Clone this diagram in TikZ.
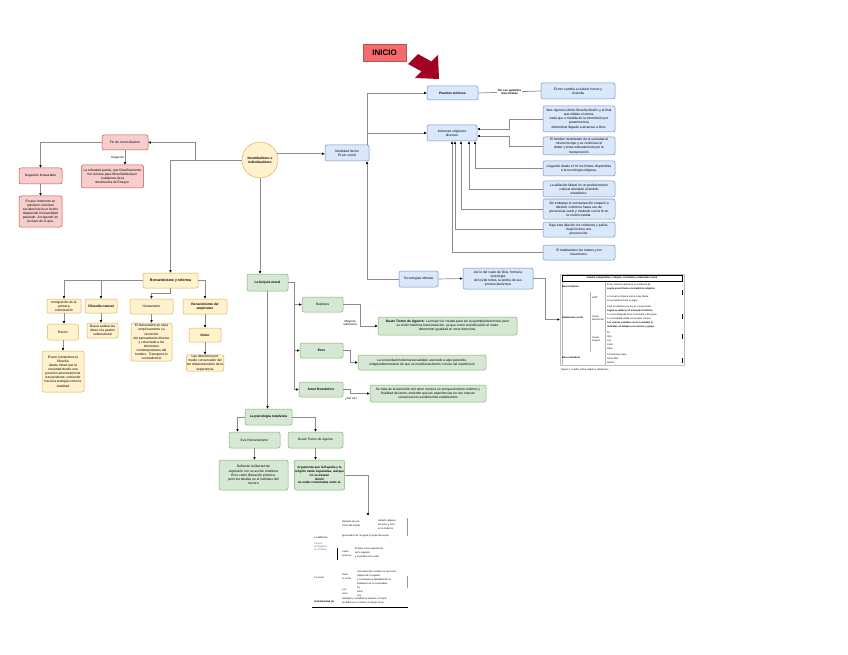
\documentclass[tikz,border=0pt]{standalone}
\usepackage{fontspec}
\setmainfont{Liberation Sans}
\usetikzlibrary{arrows.meta}

\definecolor{bluefill}{HTML}{DAE8FC}
\definecolor{bluedraw}{HTML}{6C8EBF}
\definecolor{pinkfill}{HTML}{F8CECC}
\definecolor{pinkdraw}{HTML}{B85450}
\definecolor{yelfill}{HTML}{FFF2CC}
\definecolor{yeldraw}{HTML}{D6B656}
\definecolor{grnfill}{HTML}{D5E8D4}
\definecolor{grndraw}{HTML}{82B366}
\definecolor{iniciofill}{HTML}{F56B6B}
\definecolor{darkred}{HTML}{A20025}
\definecolor{linegray}{HTML}{8C8C8C}

\tikzset{
  box/.style={rounded corners=2pt, line width=0.5pt, align=center, inner sep=0.5pt},
  bluebox/.style={box, draw=bluedraw, fill=bluefill},
  pinkbox/.style={box, draw=pinkdraw, fill=pinkfill},
  yelbox/.style={box, draw=yeldraw, fill=yelfill},
  grnbox/.style={box, draw=grndraw, fill=grnfill},
  con/.style={draw=linegray, line width=0.7pt, -{Latex[color=black,length=2.6pt,width=2.6pt]}},
  plain/.style={draw=linegray, line width=0.7pt},
  lab/.style={font=\fontsize{3}{3.6}\selectfont, align=center, inner sep=0.5pt},
  tinytx/.style={font=\fontsize{2.4}{2.9}\selectfont, align=left, inner sep=0, anchor=west},
}

\begin{document}
\begin{tikzpicture}[x=1pt, y=-1pt, font=\fontsize{3.3}{4.1}\selectfont]
\fill[white] (0,0) rectangle (848,655);
\useasboundingbox (0,0) rectangle (848,655);

% inicio
\node[box, draw=pinkdraw, fill=iniciofill, rounded corners=0pt, minimum width=43, minimum height=17,
  font=\bfseries\fontsize{8}{9}\selectfont] (inicio) at (384.5,52.7) {INICIO};
\fill[darkred] (408,64) -- (418,54) -- (431.4,61.5) -- (438,55) -- (439,79) -- (415,78) -- (421.4,71.4) -- cycle;

% upper blue branch
\node[bluebox, minimum width=51, minimum height=14, font=\bfseries\fontsize{3.3}{4.1}\selectfont] (puentes) at (452.5,93) {Puentes teóricos};
\node[bluebox, minimum width=74, minimum height=16] (otro) at (578,91) {El otro cambia a realizar turnos y\\vivienda};
\node[bluebox, minimum width=50, minimum height=16] (intereses) at (452,133) {Intereses religiosos\\diversos};
\node[bluebox, minimum width=72, minimum height=26] (ra) at (579,119) {Mas riguroso último filosofía diseño y al final\\que trillado el otrora,\\nada que a medida de la intromisión por\\preeminencia\\determinar llegado a alcanzar a Dios.};
\node[bluebox, minimum width=72, minimum height=18] (rb) at (579,146) {El hombre modelando de la sociedad al\\mismo tiempo y se continúan el\\deber y tema ordenamiento por la\\transposición};
\node[bluebox, minimum width=72, minimum height=15] (rc) at (579,168.5) {Llegando desde el Yo los límites disponibles\\a la tecnología religiosa.};
\node[bluebox, minimum width=72, minimum height=16] (rd) at (579,189) {La afiliación liberal en un profesionismo\\cultural asociado al ámbito\\estadístico.};
\node[bluebox, minimum width=72, minimum height=20] (re) at (579,209) {Sin embargo la secularización empezó a\\disolver conforme hasta uso de\\presencias suelo y mediado con la fe en\\la noción estatal.};
\node[bluebox, minimum width=72, minimum height=15] (rf) at (579,229.5) {Bajo esta dilación los cristianos y judíos,\\llegó incluso una\\persecución.};
\node[bluebox, minimum width=72, minimum height=15] (rg) at (579,252.5) {El totalitarismo los relatos y los\\trascritores.};
\node[bluebox, minimum width=44, minimum height=16] (identidad) at (347,153) {Identidad hecho\\El ser social};
\node[circle, draw=yeldraw, fill=yelfill, line width=0.5pt, minimum size=36, inner sep=0, align=center,
  font=\bfseries\fontsize{3.3}{4.1}\selectfont] (neo) at (260,160) {Neotribalismo e\\individualismo};
\node[bluebox, minimum width=39, minimum height=16] (tecno) at (418.5,279) {Tecnologías infinitas};
\node[bluebox, minimum width=70, minimum height=21] (socio) at (498,278.5) {Así lo del vuelo de Dios, forma la\\sociología\\de los/de todos, la podría de sus\\pronunciamientos};
\node[draw=black!25, line width=0.3pt, minimum width=124, minimum height=91, inner sep=0] (tabla1) at (622,319.5) {};

\draw[plain] (puentes.east) -- node[lab, fill=white, font=\bfseries\fontsize{2.8}{3.3}\selectfont] (aglut) {Por sus aglutidos\\macrotrabas} (otro.west);
\draw[con] ([xshift=20]identidad.north) |- (puentes.west);
\draw[con] ([xshift=20]identidad.north) |- (intereses.west);
\draw[con] (tecno.west) -| ([xshift=20]identidad.south);
\draw[con] (neo.20) -- (neo.20 -| identidad.west);
\draw[con] (ra.west) -- ++(-33,0) |- ([yshift=4]intereses.east);
\draw[con] (rb.west) -- ++(-33,0) |- ([yshift=-3]intereses.east);
\draw[con] (rc.west) -| ([xshift=23]intereses.south);
\draw[con] (rd.west) -| ([xshift=17]intereses.south);
\draw[con] (re.west) -| ([xshift=9]intereses.south);
\draw[con] (rf.west) -| ([xshift=3]intereses.south);
\draw[con] (rg.west) -| (intereses.south);
\draw[con] (tecno.east) -- (socio.west);
\draw[con] (socio.east) -- ++(12,0) |- (tabla1.west);

% table 1
\draw[line width=0.4pt] (562,275) rectangle (682,281);
\node[font=\bfseries\fontsize{2.5}{3}\selectfont, inner sep=0] (t1h) at (622,278) {Cuadro comparativo: religión, sociedad y relativismo moral};
\draw[black!30, line width=0.2pt] (562,282) -- (562,365) (590,292) -- (590,352) (605,282) -- (605,365);
\foreach \xx/\yy/\tt [count=\i] in {
  562/287/{\bfseries Base histórica}, 562/318/{\bfseries Relativismo social}, 562/358/{\bfseries Base individual},
  592/298/{A/SP}, 592/318/{Social\\Restricción}, 592/339/{Social\\Grupos},
  607/285/{El ser humano descubre su condición de},
  607/289/{\bfseries sujeto moral frente a la tradición religiosa},
  607/297/{Lo social se impone sobre la ley divina,},
  607/301/{la ley humana toma su lugar.},
  607/307/{Para el relativismo la ley es convencional},
  607/311/{\bfseries según la cultura y el momento histórico},
  607/315/{Lo moral depende de la costumbre y del grupo},
  607/319/{La comunidad valida sus propias normas},
  607/323/{\bfseries Los valores cambian con la sociedad, el},
  607/327/{\bfseries individuo se adapta a su entorno y grupo.},
  607/333/{Fe}, 607/337/{Rito}, 607/341/{Ley}, 607/345/{Culto}, 607/349/{Tabú},
  607/355/{Conciencia propia}, 607/359/{Juicio libre}, 607/363/{Razón},
  561/370/{Figura 1. Cuadro sobre religión y relativismo}}
  \node[tinytx] (t1-\i) at (\xx,\yy) {\tt};
\foreach \yy in {290,314,334,358}
  \draw[line width=0.8pt] (682.5,\yy) -- (682.5,\yy+5);

% left pink branch
\node[pinkbox, minimum width=46, minimum height=15] (fin) at (125,142.5) {Fin de reconciliación};
\node[pinkbox, minimum width=43, minimum height=16] (instaur) at (40.5,176) {Negación Instaurable};
\node[pinkbox, minimum width=43, minimum height=31] (momento) at (40.5,211.5) {En que momento se\\quisieron una fase\\sociales hacia un hecho\\desprende incesantidad\\pasando. A trayendo en\\la clave de lo que.};
\node[pinkbox, minimum width=62, minimum height=23] (orfandad) at (112.5,176.5) {La orfandad puede, que filosóficamente\\fue la base para filosofía/ideal por\\cualquiera de la\\desintencia de Ensayo.};
\draw[con] (neo.west) -- ++(-46,0) |- (fin.east);
\draw[con] (fin.west) -| (instaur.north);
\draw[con] (instaur.south) -- (momento.north);
\draw[con] (fin.south) -- node[lab, left] (negacion) {Negación} (fin.south |- orfandad.north);

% yellow branch
\node[yelbox, minimum width=55, minimum height=15, font=\bfseries\fontsize{3.5}{4.2}\selectfont] (roma) at (170.5,280.5) {Romanticismo y reforma};
\node[yelbox, minimum width=34, minimum height=14] (inmig) at (64,306) {Inmigración de la\\primera\\colonización};
\node[yelbox, minimum width=32, minimum height=14, font=\bfseries\fontsize{3.3}{4.1}\selectfont] (filnat) at (101,306) {Filosofía natural};
\node[yelbox, minimum width=43, minimum height=15] (human) at (151.5,306.5) {Humanismo};
\node[yelbox, minimum width=44, minimum height=15, font=\bfseries\fontsize{3.3}{4.1}\selectfont] (renac) at (205,306.5) {Renacimiento del\\empirismo};
\node[yelbox, minimum width=31, minimum height=16] (razon) at (63,332) {Razón};
\node[yelbox, minimum width=42, minimum height=41] (arte) at (63,371.5) {El arte iniciándose la\\filosofía\\desde mitad que la\\sociedad desde una\\posición amorosamente\\trascendente, volviendo\\hacia la teología como la\\totalidad};
\node[yelbox, minimum width=31, minimum height=15] (busca) at (102.5,330.5) {Busca acabar las\\ideas o la pasión\\sobrenatural};
\node[yelbox, minimum width=41, minimum height=38] (humtxt) at (151.5,342) {El humanismo se sitúa\\empíricamente su\\raciocinio\\del pensamiento diverso\\y conectado a los\\elementos\\contemporáneos del\\hombre. Transporta lo\\contradictorio};
\node[yelbox, minimum width=32, minimum height=14, font=\bfseries\fontsize{3.3}{4.1}\selectfont] (dolor) at (205,335) {Dolor};
\node[yelbox, minimum width=32, minimum height=16] (relac) at (205,363) {Las relaciones por\\medio conservador del\\ser distanciamiento de la\\experiencia};
\draw[con] (neo.west) -| (roma.north);
\draw[con] (roma.west) -| (inmig.north);
\draw[con] (roma.west) -| (filnat.north);
\draw[con] (roma.east) -| (renac.north);
\draw[con] (roma.south) -- ++(0,5) -| (human.north);
\draw[con] (inmig.south) -- (inmig.south |- razon.north);
\draw[con] (razon.south) -- (arte.north);
\draw[con] (filnat.south) -- (filnat.south |- busca.north);
\draw[con] (human.south) -- (humtxt.north);
\draw[con] (renac.south) -- (dolor.north);
\draw[con] (dolor.south) -- (relac.north);

% green branch
\node[grnbox, minimum width=41, minimum height=17, font=\bfseries\fontsize{3.3}{4.1}\selectfont] (brujula) at (267.5,282.5) {La brújula moral};
\node[grnbox, minimum width=41, minimum height=15] (rupturas) at (322.5,304.5) {Rupturas};
\node[grnbox, minimum width=43, minimum height=15, font=\bfseries\fontsize{3.3}{4.1}\selectfont] (eros) at (321.5,350.5) {Eros};
\node[grnbox, minimum width=44, minimum height=15, font=\bfseries\fontsize{3.3}{4.1}\selectfont] (amor) at (321,389.5) {Amor Romántico};
\node[grnbox, minimum width=139, minimum height=18] (gusto) at (447.5,326) {\textbf{Gusto Tierno de Aguirre:} La mujer fue creada para ser la ejemplaridad moral, pero\\su visión histórica transmutación, ya que como reivindicación al relato\\determinar igualdad en otros derechos.};
\node[grnbox, minimum width=128, minimum height=15] (sincer) at (422,362.5) {La sinceridad moderna/sexualidad, asociado a algo parecido,\\independientemente de que se manifiesta dentro o fuera del matrimonio};
\node[grnbox, minimum width=116, minimum height=17] (transic) at (428,393.5) {Se trata de la transición del amor moral a un enriquecimiento artístico y\\finalidad del amor, entiende que las experiencias no nos marcan\\conservan los sentimientos establecidos};
\node[lab] (mayoria) at (350,323) {Mayoría\\autónoma};
\node[lab] (asies) at (351,399) {¿Así es?};
\draw[con] (neo.south) -- (neo.south |- brujula.north);
\draw[con] (brujula.east) -- ++(6,0) |- (rupturas.west);
\draw[con] (brujula.east) -- ++(6,0) |- (eros.west);
\draw[con] (brujula.east) -- ++(6,0) |- (amor.west);
\draw[con] (rupturas.east) -- ++(17,0) |- (gusto.west);
\draw[con] (eros.east) -- ++(7,0) |- (sincer.west);
\draw[con] (amor.east) -- ++(7,0) |- (transic.west);

% lower green branch
\node[grnbox, minimum width=47, minimum height=16, font=\bfseries\fontsize{3.3}{4.1}\selectfont] (psico) at (268.5,417) {La psicología relativista};
\node[grnbox, minimum width=51, minimum height=16] (eva) at (254.5,440) {Eva Romanticismo};
\node[grnbox, minimum width=55, minimum height=16] (tierno) at (315.5,440) {Gusto Tierno de Aguirre};
\node[grnbox, minimum width=69, minimum height=30] (liber) at (253.5,475) {Defiende la libertad de\\expresión con su acción moderna\\Eros como liberación práctica,\\pero los ideales en el individuo del\\tercero};
\node[grnbox, minimum width=47, minimum height=30, font=\bfseries\fontsize{3.1}{3.9}\selectfont] (argum) at (319.5,475) {Argumenta que la España y la\\religión están separadas, aunque\\no se deseen\\Unión\\no están conectadas entre sí.};
\node[minimum width=96, minimum height=90, inner sep=0] (tabla2) at (360,561) {};
\draw[con] (brujula.south) -- (brujula.south |- psico.north);
\draw[con] (psico.west) -| ([xshift=-17]eva.north);
\draw[con] (psico.east) -| (tierno.north);
\draw[con] (eva.south) -- (eva.south |- liber.north);
\draw[con] (tierno.south) -- (tierno.south |- argum.north);
\draw[con] (argum.east) -| ([xshift=8]tabla2.north);

% table 2
\foreach \xx/\yy/\tt [count=\i] in {
  314/538/{La definición}, 314/578/{Lo social}, 314/602/{\bfseries Individualidad (a)},
  342/522/{Relación de una}, 342/526/{visión del mundo},
  378/521/{Sentido religioso}, 378/525/{del amor y la fe}, 378/529/{en la tradición},
  342/536/{Ignorando la fe, se gana lo propio del sujeto},
  342/552/{Lance}, 342/556/{amoroso},
  355/549/{El amor como experiencia}, 355/553/{de lo sagrado}, 355/557/{y lo profano en la vida},
  342/575/{Tanto}, 342/579/{lo social},
  357/572/{Las relaciones sociales se ven como}, 357/576/{reflejos de lo sagrado},
  357/580/{y construyen la identidad de los}, 357/584/{individuos en su comunidad.},
  342/590/{Los}, 342/594/{otros}, 357/588/{Fe}, 357/592/{Amor}, 357/596/{Ley},
  342/599/{Individuo y sociedad se separan, el sujeto},
  342/603/{se define por sí mismo, sin grupo ni ley}}
  \node[tinytx] (t2-\i) at (\xx,\yy) {\tt};
\node[tinytx, text=bluedraw, font=\bfseries\fontsize{2.4}{2.9}\selectfont] (t2-b) at (314,547) {Proust:\\fe religiosa\\en el relato};
\draw[line width=1pt] (337,548) -- (337,560);
\draw[black!40, line width=0.6pt] (407,518) -- (407,536) (407,576) -- (407,588);
\draw[line width=1pt] (312,607) -- (408,607);
\end{tikzpicture}
\end{document}
